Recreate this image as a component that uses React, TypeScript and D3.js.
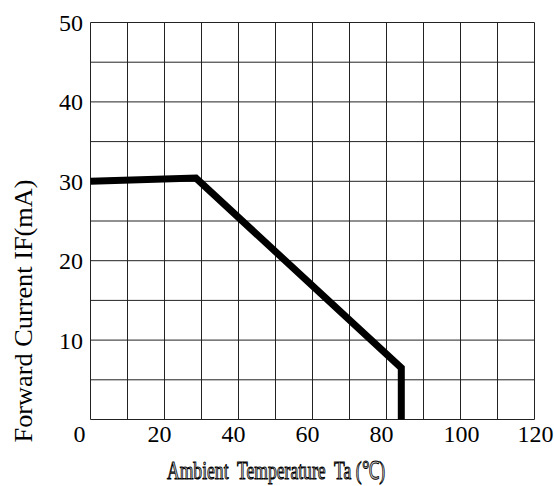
import React from "react";
import * as d3 from "d3";

const xGrid = d3.range(0, 121, 10);
const yGrid = d3.range(0, 51, 5);
const xTickLabels = [0, 20, 40, 60, 80, 100, 120];
const yTickLabels = [10, 20, 30, 40, 50];
const curveTemp = [0, 28.5, 84, 84];
const curveCurrent = [30, 30.4, 6.5, 0];

const W = 554;
const H = 486;

export default function App() {
  const x = d3.scaleLinear().domain([0, 120]).range([90.5, 534.5]);
  const y = d3.scaleLinear().domain([0, 50]).range([419.5, 22.5]);
  const pts: [number, number][] = curveTemp.map((t, i) => [t, curveCurrent[i]]);
  const line = d3
    .line<[number, number]>()
    .x((d) => x(d[0]))
    .y((d) => y(d[1]));
  const font = "Liberation Serif, Times New Roman, serif";
  return (
    <svg
      width={W}
      height={H}
      style={{ position: "absolute", left: 0, top: 0, background: "#fff" }}
    >
      <rect width={W} height={H} fill="#fff" />
      {xGrid.map((v) => (
        <line
          key={"gx" + v}
          x1={x(v)}
          x2={x(v)}
          y1={y(0)}
          y2={y(50)}
          stroke="#222"
          strokeWidth={1}
        />
      ))}
      {yGrid.map((v) => (
        <line
          key={"gy" + v}
          x1={x(0)}
          x2={x(120)}
          y1={y(v)}
          y2={y(v)}
          stroke="#222"
          strokeWidth={1}
        />
      ))}
      <path
        d={line(pts) || ""}
        fill="none"
        stroke="#000"
        strokeWidth={7}
        strokeLinejoin="miter"
        strokeLinecap="butt"
      />
      {xTickLabels.map((v) => (
        <text
          key={"xl" + v}
          x={x(v) - 17}
          y={442}
          fontFamily={font}
          fontSize={24}
          textAnchor="start"
          fill="#000"
        >
          {v}
        </text>
      ))}
      {yTickLabels.map((v) => (
        <text
          key={"yl" + v}
          x={83}
          y={y(v) + 8.5}
          fontFamily={font}
          fontSize={24}
          textAnchor="end"
          fill="#000"
        >
          {v}
        </text>
      ))}
      <text
        x={167}
        y={479}
        fontFamily={font}
        fontSize={25}
        textLength={218}
        lengthAdjust="spacingAndGlyphs"
        fill="#d8d8d8"
        stroke="#000"
        strokeWidth={1}
        xmlSpace="preserve"
        style={{ whiteSpace: "pre" }}
      >
        {"Ambient  Temperature  Ta (℃)"}
      </text>
      <text
        transform={`translate(32,311) rotate(-90)`}
        fontFamily={font}
        fontSize={26}
        textAnchor="middle"
        textLength={263}
        lengthAdjust="spacingAndGlyphs"
        fill="#000"
      >
        Forward Current IF(mA)
      </text>
    </svg>
  );
}
